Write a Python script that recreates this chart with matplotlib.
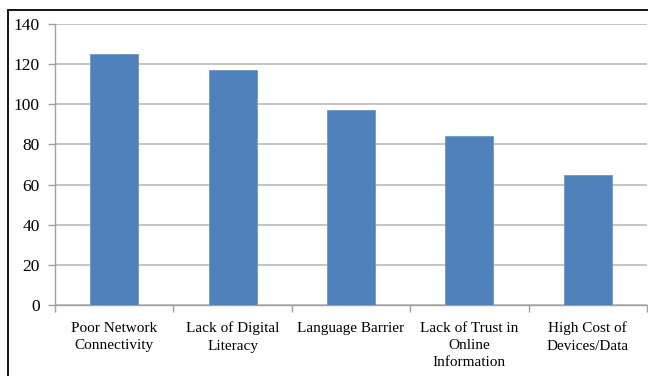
import numpy as np
import matplotlib.pyplot as plt
from matplotlib.patches import Rectangle

categories = ["Poor Network\nConnectivity", "Lack of Digital\nLiteracy", "Language Barrier",
              "Lack of Trust in\nOnline\nInformation", "High Cost of\nDevices/Data"]
counts = [125, 117, 97, 84, 65]
yticks = [0, 20, 40, 60, 80, 100, 120, 140]

plt.rcParams['font.family'] = ['Liberation Serif', 'DejaVu Serif']

fig = plt.figure(figsize=(6.48, 3.76), dpi=100)
ax = fig.add_axes([55/648, 71/376, 592/648, 281/376])

# outer frame around the chart
fig.patches.append(Rectangle((8/648, -0.2), 1.2, 1.2 - 10/376,
                             transform=fig.transFigure, fill=False,
                             edgecolor='black', linewidth=1.3))

x = np.arange(len(categories))
ax.bar(x, counts, width=0.405, color='#4F81BD', edgecolor='#6f97cb', linewidth=0.6, zorder=3)

ax.set_xlim(-0.5, len(categories) - 0.5)
ax.set_ylim(0, 140)
ax.set_yticks(yticks)
ax.set_yticklabels([str(v) for v in yticks], fontsize=12.5)
ax.yaxis.grid(True, color='#c4c4c4', linewidth=1.4, zorder=0)
ax.set_axisbelow(True)

ax.set_xticks(x)
ax.set_xticklabels(categories, fontsize=11, linespacing=1.42)
ax.tick_params(axis='x', length=0, pad=12)
ax.set_xticks(np.arange(-0.5, len(categories)), minor=True)
ax.tick_params(axis='x', which='minor', length=5, color='#a0a0a0', width=1)
ax.tick_params(axis='y', length=5, color='#a0a0a0', width=1, pad=6)

for s in ['top', 'right']:
    ax.spines[s].set_visible(False)
for s in ['left', 'bottom']:
    ax.spines[s].set_color('#a0a0a0')
    ax.spines[s].set_linewidth(1)

fig.savefig('out.png', dpi=100)
